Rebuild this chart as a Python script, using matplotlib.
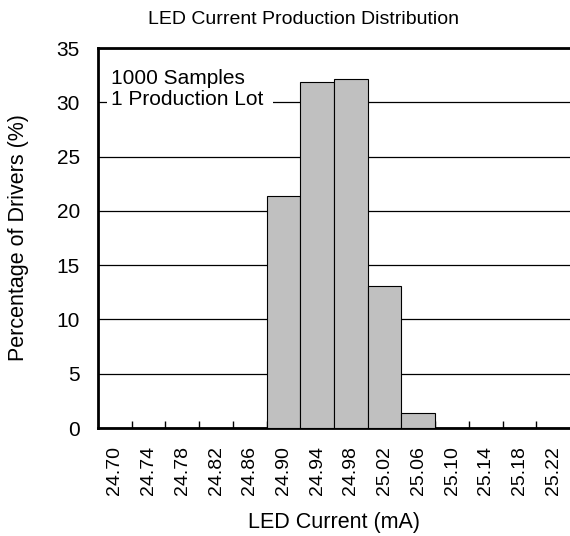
import matplotlib
matplotlib.use('Agg')
import matplotlib.pyplot as plt
import numpy as np

plt.rcParams['font.family'] = ['Liberation Sans', 'DejaVu Sans']

# bin centres (mA) and percentage of drivers in each bin
categories = ['24.70', '24.74', '24.78', '24.82', '24.86', '24.90', '24.94',
              '24.98', '25.02', '25.06', '25.10', '25.14', '25.18', '25.22']
percent = [0, 0, 0, 0, 0, 21.4, 31.9, 32.1, 13.1, 1.4, 0, 0, 0, 0]

fig = plt.figure(figsize=(5.70, 5.36), dpi=100)
ax = fig.add_axes([98 / 570, 1 - 428 / 536, 472 / 570, (428 - 48) / 536])

x = np.arange(len(categories))
ax.bar(x, percent, width=1.0, color='#c0c0c0', edgecolor='black', linewidth=0.8, zorder=3)

ax.set_xlim(-0.5, len(categories) - 0.5)
ax.set_ylim(0, 35)
ax.set_yticks(range(0, 36, 5))
ax.yaxis.grid(True, color='black', linewidth=0.9, zorder=0)
ax.tick_params(axis='y', length=0, labelsize=15, pad=13)

# ticks on the bin edges, labels on the bin centres
ax.set_xticks(np.arange(0.5, len(categories) - 1, 1.0))
ax.set_xticklabels([])
ax.set_xticks(x, minor=True)
ax.set_xticklabels(categories, minor=True, rotation=90, fontsize=14)
ax.tick_params(axis='x', which='major', direction='in', length=5, width=1)
ax.tick_params(axis='x', which='minor', length=0, pad=13)

for side in ['left', 'bottom', 'top']:
    ax.spines[side].set_linewidth(2)
ax.spines['right'].set_visible(False)

ax.text(0.027, 0.945, '1000 Samples\n1 Production Lot ', transform=ax.transAxes,
        fontsize=15, va='top', ha='left', linespacing=1.12, zorder=4,
        bbox=dict(facecolor='white', edgecolor='none', pad=3))

fig.text(303 / 570, 1 - 19 / 536, 'LED Current Production Distribution',
         fontsize=14, ha='center', va='center')
ax.set_xlabel('LED Current (mA)', fontsize=15.5, labelpad=12)
ax.set_ylabel('Percentage of Drivers (%)', fontsize=15.5, labelpad=20)

fig.savefig('out.png', dpi=100)
